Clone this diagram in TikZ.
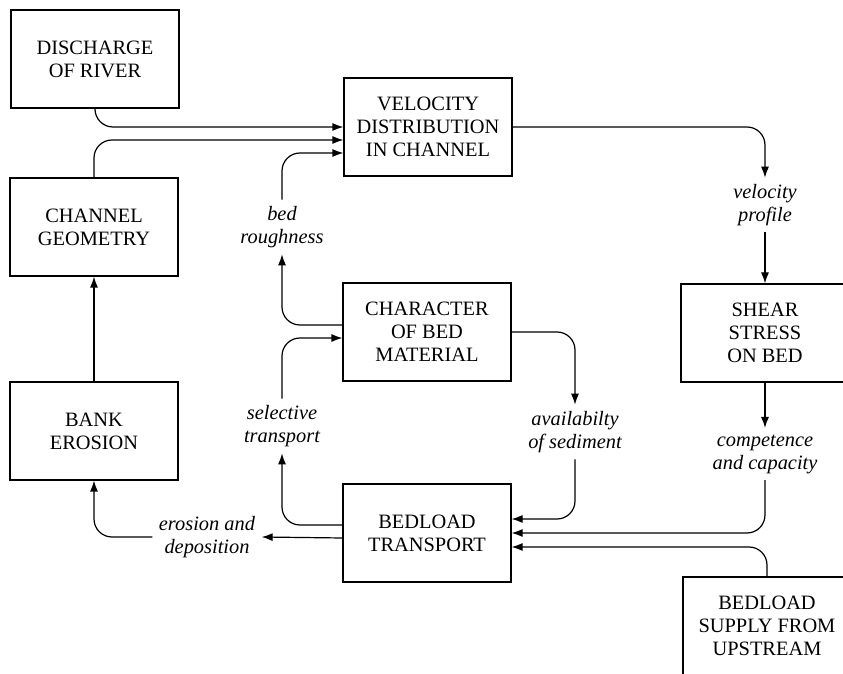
\documentclass[tikz,border=0pt]{standalone}
\usepackage{fontspec}
\setmainfont{Liberation Serif}
\usetikzlibrary{arrows.meta}

\begin{document}
\begin{tikzpicture}[x=0.5pt, y=-0.5pt, line width=0.6pt,
    >={Latex[length=5.5pt, width=4pt]},
    box/.style={draw, rectangle, minimum width=84pt, minimum height=49pt, align=center,
      inner sep=2pt, font=\fontsize{10.2}{11.5}\selectfont},
    lbl/.style={align=center, inner sep=3pt, font=\fontsize{10.2}{11.5}\selectfont\itshape},
    link/.style={->, rounded corners=9pt}]
  \useasboundingbox (0,0) rectangle (843,674);
  \clip (0,0) rectangle (843,674);

  % boxes
  \node[box] (dis) at (95,59) {DISCHARGE\\OF RIVER};
  \node[box] (geom) at (94,227) {CHANNEL\\GEOMETRY};
  \node[box] (bank) at (94,431) {BANK\\EROSION};
  \node[box] (vel) at (428,127) {VELOCITY\\DISTRIBUTION\\IN CHANNEL};
  \node[box] (char) at (427,332) {CHARACTER\\OF BED\\MATERIAL};
  \node[box] (trans) at (427,533) {BEDLOAD\\TRANSPORT};
  \node[box] (shear) at (765,333) {SHEAR\\STRESS\\ON BED};
  \node[box] (supply) at (767,626) {BEDLOAD\\SUPPLY FROM\\UPSTREAM};

  % labels
  \node[lbl] (rough) at (282,227) {bed\\roughness};
  \node[lbl] (select) at (282,426) {selective\\transport};
  \node[lbl] (erode) at (207,537) {erosion and\\deposition};
  \node[lbl] (profile) at (765,205) {velocity\\profile};
  \node[lbl] (avail) at (575,432) {availabilty\\of sediment};
  \node[lbl] (compet) at (765,454) {competence\\and capacity};

  % into the velocity box
  \draw[link] (dis.south) |- (vel.west);
  \draw[link] (geom.north) |- ([yshift=-6.5pt]vel.west);
  \draw[link] (rough.north) |- ([yshift=-13pt]vel.west);
  \draw[link] ([yshift=3.5pt]char.west) -| (rough.south);

  % right-hand side
  \draw[link] (vel.east) -| (profile.north);
  \draw[->] (profile.south) -- (shear.north);
  \draw[->] (shear.south) -- (compet.north);
  \draw[link] (compet.south) |- (trans.east);
  \draw[link] (supply.north) |- ([yshift=-7pt]trans.east);

  % bed material loop
  \draw[link] (char.east) -| (avail.north);
  \draw[link] (avail.south) |- ([yshift=7pt]trans.east);
  \draw[link] ([yshift=4pt]trans.west) -| (select.south);
  \draw[link] (select.north) |- ([yshift=-3pt]char.west);

  % bank erosion
  \draw[->] ([yshift=-2.5pt]trans.west) -- (erode.east);
  \draw[link] (erode.west) -| (bank.south);
  \draw[->] (bank.north) -- (geom.south);
\end{tikzpicture}
\end{document}
